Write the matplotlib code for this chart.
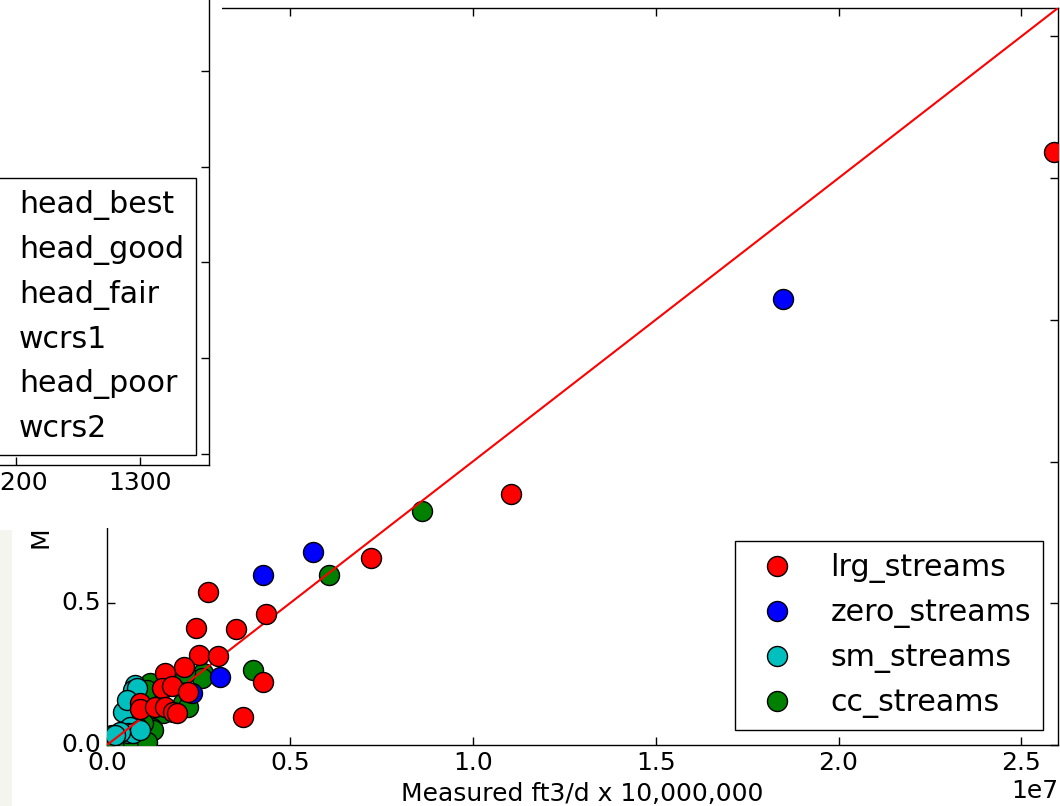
"""
Measured vs modeled stream flow, with a second plot window partly covering it.
"""

import numpy as np
import matplotlib
matplotlib.use("Agg")
import matplotlib.pyplot as plt
from matplotlib.lines import Line2D
from matplotlib.patches import Rectangle

plt.style.use("classic")
plt.rcParams["font.family"] = ["DejaVu Sans"]
plt.rcParams["font.size"] = 18
plt.rcParams["legend.fontsize"] = 21.6

SCALE = 1e7  # values below are in units of 10,000,000 ft3/d

lrg_measured = [2.590, 1.104, 0.721, 0.276, 0.434, 0.243, 0.352, 0.251, 0.303, 0.210,
                0.158, 0.426, 0.150, 0.178, 0.221, 0.090, 0.090, 0.131, 0.158, 0.180,
                0.191, 0.372]
lrg_modeled = [2.092, 0.885, 0.660, 0.540, 0.462, 0.413, 0.409, 0.317, 0.314, 0.275,
               0.254, 0.222, 0.201, 0.208, 0.187, 0.148, 0.127, 0.134, 0.134, 0.116,
               0.113, 0.099]

zero_measured = [1.847, 0.563, 0.426, 0.309, 0.232]
zero_modeled = [1.573, 0.681, 0.600, 0.240, 0.183]

sm_measured = [0.077, 0.071, 0.082, 0.044, 0.055, 0.055, 0.082, 0.063, 0.057, 0.071,
               0.090, 0.036, 0.022]
sm_modeled = [0.212, 0.194, 0.201, 0.116, 0.159, 0.053, 0.063, 0.063, 0.042, 0.042,
              0.053, 0.046, 0.035]

cc_measured = [0.861, 0.607, 0.399, 0.262, 0.260, 0.213, 0.123, 0.117, 0.109, 0.213,
               0.208, 0.221, 0.153, 0.123, 0.126, 0.098, 0.071, 0.008, 0.014, 0.027,
               0.055, 0.082, 0.098, 0.071, 0.109, 0.000]
cc_modeled = [0.825, 0.600, 0.265, 0.254, 0.236, 0.254, 0.212, 0.219, 0.194, 0.134,
              0.148, 0.134, 0.113, 0.060, 0.053, 0.078, 0.088, 0.028, 0.035, 0.018,
              0.018, 0.018, 0.018, 0.011, 0.011, 0.011]

axis_max = 2.6  # both axes, 1:1 line runs corner to corner

# the other window lying on top (only its corner shows)
other_labels = ["head_best", "head_good", "head_fair", "wcrs1", "head_poor", "wcrs2"]
other_xticks = [800, 900, 1000, 1100, 1200, 1300]
other_xlim = (759.7, 1355.6)
other_yticks = [1, 2, 3, 4, 5, 6, 7]
other_ylim = (0.885, 7.42)

W, H = 1060, 806
fig = plt.figure(figsize=(W / 100, H / 100), dpi=100, facecolor="white")

ax = fig.add_axes([107 / W, 1 - 745 / H, (1058 - 107) / W, (745 - 8) / H])
ax.set_zorder(0)

ms = 14.4
groups = [
    ("cc_streams", cc_measured, cc_modeled, "g"),
    ("sm_streams", sm_measured, sm_modeled, "c"),
    ("zero_streams", zero_measured, zero_modeled, "b"),
    ("lrg_streams", lrg_measured, lrg_modeled, "r"),
]
handles = {}
for name, xs, ys, col in groups:
    h, = ax.plot(np.array(xs) * SCALE, np.array(ys) * SCALE, "o", color=col,
                 markersize=ms, markeredgecolor="black", markeredgewidth=1.0,
                 label=name, zorder=3)
    handles[name] = h
    if name == "sm_streams":
        # 1:1 line sits over the small streams but under the rest
        ax.plot([0, axis_max * SCALE], [0, axis_max * SCALE], "r-",
                linewidth=1.5, zorder=3)

ax.set_xlim(0, axis_max * SCALE)
ax.set_ylim(0, axis_max * SCALE)
ax.set_xlabel("Measured ft3/d x 10,000,000")
ax.set_ylabel("Modeled ft3/d x 10,000,000")
ax.tick_params(length=6, width=1)

order = ["lrg_streams", "zero_streams", "sm_streams", "cc_streams"]
ax.legend([handles[k] for k in order], order, loc="lower right", numpoints=1,
          fancybox=False, borderaxespad=0.5)

# window frame of the covering plot + strip of desktop at far left
fig.patches.append(Rectangle((0, 1 - 528 / H), 222 / W, 528 / H,
                             transform=fig.transFigure, facecolor="white",
                             edgecolor="none", zorder=1))
fig.patches.append(Rectangle((0, 0), 12 / W, 1 - 530 / H,
                             transform=fig.transFigure, facecolor="#f5f5f0",
                             edgecolor="none", zorder=1))

left_px = -530
top_px = -161
ax2 = fig.add_axes([left_px / W, 1 - 465 / H, (209 - left_px) / W, (465 - top_px) / H])
ax2.set_zorder(2)
ax2.set_xlim(*other_xlim)
ax2.set_ylim(*other_ylim)
ax2.set_xticks(other_xticks)
ax2.set_yticks(other_yticks)
ax2.tick_params(length=6, width=1)
blank = [Line2D([], [], linestyle="none") for _ in other_labels]
ax2.legend(blank, other_labels, loc="upper right", fancybox=False,
           bbox_to_anchor=(196 / W, 1 - 178 / H), bbox_transform=fig.transFigure,
           borderaxespad=0)

fig.savefig("out.png", dpi=100, facecolor="white")
